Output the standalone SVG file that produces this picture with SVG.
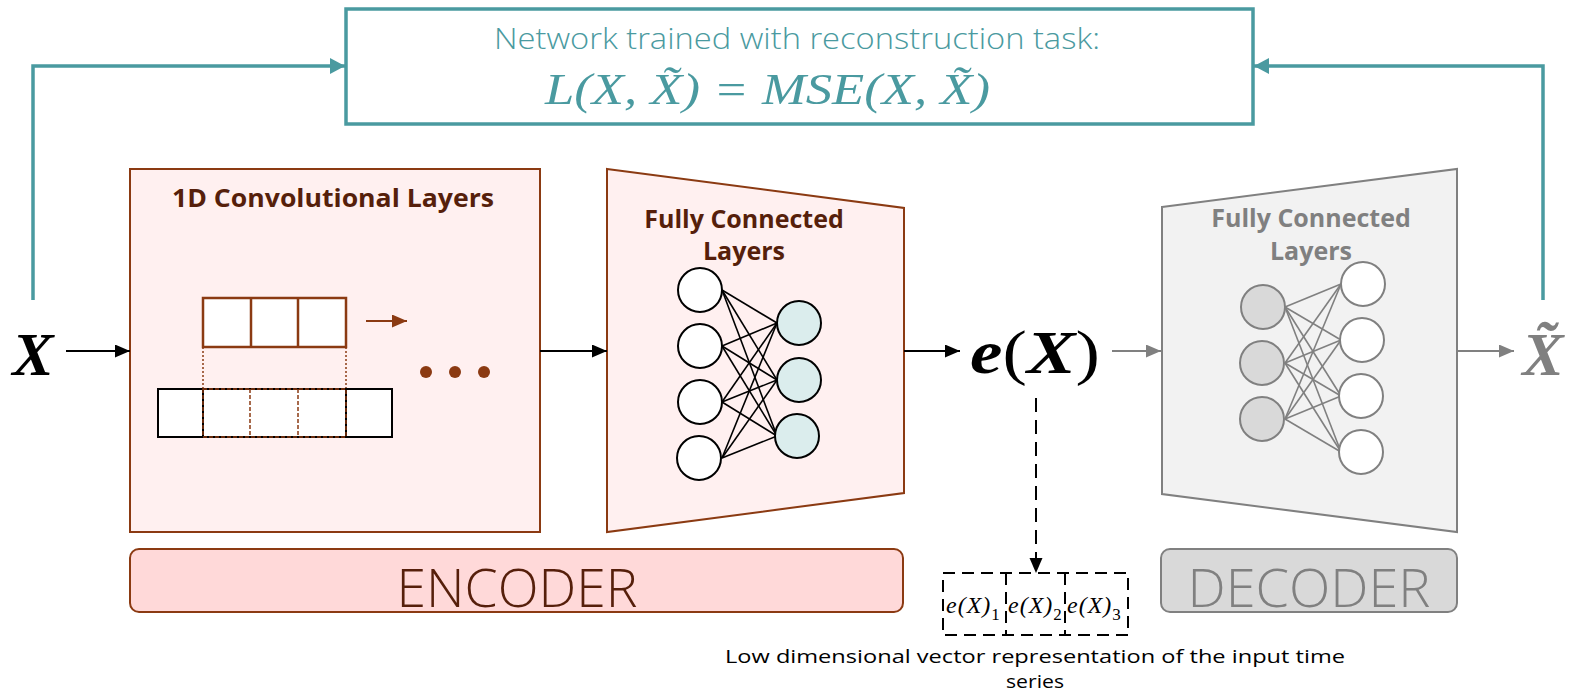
<svg xmlns="http://www.w3.org/2000/svg" width="1569" height="692" viewBox="0 0 1569 692">
<style>
.teal{stroke:#4a9aa0;stroke-width:3.5;fill:none}
.blk{stroke:#000;stroke-width:2;fill:none}
.gry{stroke:#808080;stroke-width:2;fill:none}
.brn{stroke:#8b3a12;stroke-width:2.5}
.title{font-family:"Open Sans","Noto Sans","DejaVu Sans",sans-serif;font-weight:bold;font-size:25px;text-anchor:middle}
.math{font-family:"Liberation Serif","DejaVu Serif",serif;font-style:italic}
.enc{fill:#fff0f0;stroke:#8b3a12;stroke-width:2}
.dec{fill:#f2f2f2;stroke:#808080;stroke-width:2}
.nw{fill:#fff;stroke:#000;stroke-width:2}
.nb{fill:#dbeded;stroke:#000;stroke-width:2}
.gw{fill:#fff;stroke:#808080;stroke-width:2}
.gg{fill:#d9d9d9;stroke:#808080;stroke-width:2}
.el{stroke:#000;stroke-width:1.6}
.gl{stroke:#808080;stroke-width:1.6}
.vec{font-family:"Liberation Serif","DejaVu Serif",serif;font-style:italic;font-size:24px;letter-spacing:1px}
.cap{font-family:"Open Sans","Noto Sans",sans-serif;font-size:18px}
</style>
<defs>
<marker id="ah-teal" markerUnits="userSpaceOnUse" markerWidth="16" markerHeight="18" refX="15" refY="8" orient="auto"><path d="M0,0 L15,8 L0,16 Z" fill="#4a9aa0"/></marker>
<marker id="ah-blk" markerUnits="userSpaceOnUse" markerWidth="16" markerHeight="14" refX="15" refY="6.5" orient="auto"><path d="M0,0 L15,6.5 L0,13 Z" fill="#000"/></marker>
<marker id="ah-gry" markerUnits="userSpaceOnUse" markerWidth="16" markerHeight="14" refX="15" refY="6.5" orient="auto"><path d="M0,0 L15,6.5 L0,13 Z" fill="#808080"/></marker>
<marker id="ah-brn" markerUnits="userSpaceOnUse" markerWidth="16" markerHeight="14" refX="15" refY="6.5" orient="auto"><path d="M0,0 L15,6.5 L0,13 Z" fill="#8b3a12"/></marker>
</defs>
<rect width="1569" height="692" fill="#fff"/>

<g id="loss">
<rect x="346" y="9" width="907" height="115" fill="#fff" class="teal"/>
<text x="494" y="49" font-family="'Open Sans','Noto Sans',sans-serif" font-weight="300" font-size="29" fill="#4a9aa0" textLength="606" lengthAdjust="spacingAndGlyphs">Network trained  with reconstruction task:</text>
<text x="545" y="104" class="math" font-size="44" fill="#4a9aa0" textLength="445" lengthAdjust="spacingAndGlyphs">L(X, X̃) = MSE(X, X̃)</text>
</g>

<g id="input-x">
<text x="33" y="375" class="math" font-weight="bold" font-size="62" text-anchor="middle">X</text>
</g>

<g id="conv">
<rect x="130" y="169" width="410" height="363" class="enc"/>
<text x="172" y="207" class="title" fill="#561f0b" style="text-anchor:start" textLength="322" lengthAdjust="spacingAndGlyphs">1D Convolutional Layers</text>
<rect x="203" y="298" width="143" height="49" fill="#fff" class="brn"/>
<line x1="251" y1="298" x2="251" y2="347" class="brn"/>
<line x1="298" y1="298" x2="298" y2="347" class="brn"/>
<line x1="203" y1="347" x2="203" y2="389" stroke="#8b3a12" stroke-width="1.5" stroke-dasharray="2,2"/>
<line x1="346" y1="347" x2="346" y2="389" stroke="#8b3a12" stroke-width="1.5" stroke-dasharray="2,2"/>
<rect x="158" y="389" width="234" height="48" fill="#fff" stroke="#000" stroke-width="2"/>
<line x1="203" y1="389" x2="203" y2="437" stroke="#000" stroke-width="2"/>
<line x1="346" y1="389" x2="346" y2="437" stroke="#000" stroke-width="2"/>
<rect x="203" y="389" width="143" height="48" fill="none" stroke="#8b3a12" stroke-width="1.5" stroke-dasharray="4,2"/>
<line x1="250" y1="389" x2="250" y2="437" stroke="#8b3a12" stroke-width="1.5" stroke-dasharray="4,2"/>
<line x1="298" y1="389" x2="298" y2="437" stroke="#8b3a12" stroke-width="1.5" stroke-dasharray="4,2"/>
<line x1="366" y1="321" x2="407" y2="321" stroke="#8b3a12" stroke-width="2" marker-end="url(#ah-brn)"/>
<circle cx="426" cy="372" r="6" fill="#8b3a12"/>
<circle cx="455" cy="372" r="6" fill="#8b3a12"/>
<circle cx="484" cy="372" r="6" fill="#8b3a12"/>
</g>

<g id="enc-fc">
<polygon points="607,169 904,208 904,493 607,532" class="enc"/>
<text x="744" y="228" class="title" fill="#561f0b">Fully Connected</text>
<text x="744" y="260" class="title" fill="#561f0b">Layers</text>
<g class="el">
<line x1="722" y1="290" x2="777" y2="323"/><line x1="722" y1="290" x2="777" y2="380"/><line x1="722" y1="290" x2="777" y2="436"/>
<line x1="722" y1="346" x2="777" y2="323"/><line x1="722" y1="346" x2="777" y2="380"/><line x1="722" y1="346" x2="777" y2="436"/>
<line x1="722" y1="402" x2="777" y2="323"/><line x1="722" y1="402" x2="777" y2="380"/><line x1="722" y1="402" x2="777" y2="436"/>
<line x1="722" y1="458" x2="777" y2="323"/><line x1="722" y1="458" x2="777" y2="380"/><line x1="722" y1="458" x2="777" y2="436"/>
</g>
<circle cx="700" cy="290" r="22" class="nw"/>
<circle cx="700" cy="346" r="22" class="nw"/>
<circle cx="700" cy="402" r="22" class="nw"/>
<circle cx="699" cy="458" r="22" class="nw"/>
<circle cx="799" cy="323" r="22" class="nb"/>
<circle cx="799" cy="380" r="22" class="nb"/>
<circle cx="797" cy="436" r="22" class="nb"/>
</g>

<g id="embedding">
<text x="970" y="373" font-family="'Liberation Serif','DejaVu Serif',serif" font-size="62" textLength="130" lengthAdjust="spacingAndGlyphs"><tspan font-weight="bold" font-style="italic">e</tspan>(<tspan font-weight="bold" font-style="italic">X</tspan>)</text>
</g>

<g id="vector">
<rect x="943" y="573" width="185" height="62" fill="none" stroke="#000" stroke-width="2" stroke-dasharray="12,7"/>
<line x1="1006" y1="573" x2="1006" y2="635" stroke="#000" stroke-width="2" stroke-dasharray="12,7"/>
<line x1="1065" y1="573" x2="1065" y2="635" stroke="#000" stroke-width="2" stroke-dasharray="12,7"/>
<text x="946" y="613" class="vec">e(X)<tspan font-style="normal" font-size="17" dy="7">1</tspan></text>
<text x="1008" y="613" class="vec">e(X)<tspan font-style="normal" font-size="17" dy="7">2</tspan></text>
<text x="1067" y="613" class="vec">e(X)<tspan font-style="normal" font-size="17" dy="7">3</tspan></text>
<text x="725" y="663" class="cap" textLength="620" lengthAdjust="spacingAndGlyphs">Low dimensional vector representation of the input time</text>
<text x="1035" y="688" class="cap" text-anchor="middle" textLength="58" lengthAdjust="spacingAndGlyphs">series</text>
</g>

<g id="dec-fc">
<polygon points="1162,207 1457,169 1457,532 1162,494" class="dec"/>
<text x="1311" y="227" class="title" fill="#808080">Fully Connected</text>
<text x="1311" y="260" class="title" fill="#808080">Layers</text>
<g class="gl">
<line x1="1285" y1="307" x2="1341" y2="284"/><line x1="1285" y1="307" x2="1341" y2="340"/><line x1="1285" y1="307" x2="1341" y2="396"/><line x1="1285" y1="307" x2="1341" y2="452"/>
<line x1="1285" y1="363" x2="1341" y2="284"/><line x1="1285" y1="363" x2="1341" y2="340"/><line x1="1285" y1="363" x2="1341" y2="396"/><line x1="1285" y1="363" x2="1341" y2="452"/>
<line x1="1285" y1="419" x2="1341" y2="284"/><line x1="1285" y1="419" x2="1341" y2="340"/><line x1="1285" y1="419" x2="1341" y2="396"/><line x1="1285" y1="419" x2="1341" y2="452"/>
</g>
<circle cx="1263" cy="307" r="22" class="gg"/>
<circle cx="1262" cy="363" r="22" class="gg"/>
<circle cx="1262" cy="419" r="22" class="gg"/>
<circle cx="1363" cy="284" r="22" class="gw"/>
<circle cx="1362" cy="340" r="22" class="gw"/>
<circle cx="1361" cy="396" r="22" class="gw"/>
<circle cx="1361" cy="452" r="22" class="gw"/>
</g>

<g id="output-x">
<text x="1543" y="375" class="math" font-weight="bold" font-size="62" fill="#808080" text-anchor="middle">X̃</text>
</g>

<g id="encoder-label">
<rect x="130" y="549" width="773" height="63" rx="9" fill="#ffd9d9" stroke="#8b3a12" stroke-width="2"/>
<text x="517" y="607" font-family="'Open Sans','Noto Sans',sans-serif" font-weight="300" font-size="53" fill="#561f0b" text-anchor="middle" textLength="241" lengthAdjust="spacingAndGlyphs">ENCODER</text>
</g>

<g id="decoder-label">
<rect x="1161" y="549" width="296" height="63" rx="9" fill="#d9d9d9" stroke="#808080" stroke-width="2"/>
<text x="1309" y="607" font-family="'Open Sans','Noto Sans',sans-serif" font-weight="300" font-size="53" fill="#808080" text-anchor="middle" textLength="243" lengthAdjust="spacingAndGlyphs">DECODER</text>
</g>

<g id="connectors">
<polyline points="33,300 33,66 345,66" class="teal" marker-end="url(#ah-teal)"/>
<polyline points="1543,300 1543,66 1254,66" class="teal" marker-end="url(#ah-teal)"/>
<line x1="66" y1="351" x2="130" y2="351" class="blk" marker-end="url(#ah-blk)"/>
<line x1="540" y1="351" x2="607" y2="351" class="blk" marker-end="url(#ah-blk)"/>
<line x1="904" y1="351" x2="960" y2="351" class="blk" marker-end="url(#ah-blk)"/>
<line x1="1112" y1="351" x2="1161" y2="351" class="gry" marker-end="url(#ah-gry)"/>
<line x1="1457" y1="351" x2="1514" y2="351" class="gry" marker-end="url(#ah-gry)"/>
<line x1="1036" y1="398" x2="1036" y2="573" stroke="#000" stroke-width="2" stroke-dasharray="14,8" marker-end="url(#ah-blk)"/>
</g>
</svg>
